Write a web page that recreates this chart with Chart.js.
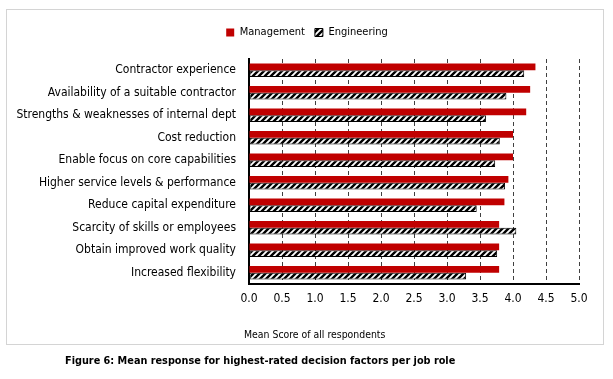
<!DOCTYPE html>
<html>
<head>
<meta charset="utf-8">
<script src="https://cdn.jsdelivr.net/npm/chart.js@4.4.0/dist/chart.umd.min.js"></script>
<style>
  body { margin: 0; background: #fff; width: 613px; height: 379px; position: relative; overflow: hidden; }
  #frame { position: absolute; left: 6px; top: 9px; width: 596px; height: 334px; border: 1px solid #d4d4d4; }
  #chartBox { position: absolute; left: 0; top: 0; width: 596px; height: 334px; }
  #axisTitle { position: absolute; left: 244px; top: 328px; white-space: nowrap;
    font: 10.4px "DejaVu Sans Condensed", "DejaVu Sans", sans-serif; color: #000; }
  #caption { position: absolute; left: 65px; top: 354px; white-space: nowrap;
    font: bold 10.8px "DejaVu Sans Condensed", "DejaVu Sans", sans-serif; color: #000; }
</style>
</head>
<body>
<div id="frame"><div id="chartBox"><canvas id="chartFactors"></canvas></div></div>
<div id="axisTitle">Mean Score of all respondents</div>
<div id="caption">Figure 6: Mean response for highest-rated decision factors per job role</div>
<script>
const factors = [
  'Contractor experience',
  'Availability of a suitable contractor',
  'Strengths & weaknesses of internal dept',
  'Cost reduction',
  'Enable focus on core capabilities',
  'Higher service levels & performance',
  'Reduce capital expenditure',
  'Scarcity of skills or employees',
  'Obtain improved work quality',
  'Increased flexibility'
];
const management = [4.34, 4.26, 4.20, 4.00, 4.00, 3.93, 3.87, 3.79, 3.79, 3.79];
const engineering = [4.17, 3.90, 3.59, 3.80, 3.73, 3.88, 3.45, 4.05, 3.76, 3.29];
const xTicks = [0, 0.5, 1, 1.5, 2, 2.5, 3, 3.5, 4, 4.5, 5];

const fontName = '"DejaVu Sans Condensed", "DejaVu Sans", sans-serif';

function makeHatch() {
  const c = document.createElement('canvas');
  c.width = 6;
  c.height = 6;
  const ctx = c.getContext('2d');
  ctx.fillStyle = '#fff';
  ctx.fillRect(0, 0, 6, 6);
  ctx.strokeStyle = '#000';
  ctx.lineWidth = 2.4;
  ctx.beginPath();
  ctx.moveTo(-1, 7); ctx.lineTo(7, -1);
  ctx.moveTo(-4, 4); ctx.lineTo(4, -4);
  ctx.moveTo(2, 10); ctx.lineTo(10, 2);
  ctx.stroke();
  return ctx.createPattern(c, 'repeat');
}

// extra room under the legend, and nudge it right
const legendSpace = {
  id: 'legendSpace',
  afterInit(chart) {
    const fit = chart.legend.fit;
    chart.legend.fit = function() {
      fit.call(this);
      this.height += 11;
    };
  },
  afterLayout(chart) {
    chart.legend.left += 11;
    chart.legend.right += 11;
  }
};

const canvas = document.getElementById('chartFactors');
const chart = new Chart(canvas, {
  type: 'bar',
  data: {
    labels: factors,
    datasets: [
      {
        label: 'Management',
        data: management,
        backgroundColor: '#c00000',
        borderWidth: 0,
        categoryPercentage: 0.6,
        barPercentage: 1.0
      },
      {
        label: 'Engineering',
        data: engineering,
        backgroundColor: makeHatch(),
        borderColor: '#000',
        borderWidth: 1,
        borderSkipped: false,
        categoryPercentage: 0.6,
        barPercentage: 1.0
      }
    ]
  },
  options: {
    indexAxis: 'y',
    responsive: true,
    maintainAspectRatio: false,
    animation: false,
    layout: { padding: { left: 6, right: 24, top: 7, bottom: 0 } },
    plugins: {
      legend: {
        position: 'top',
        labels: {
          color: '#000',
          font: { family: fontName, size: 11 },
          boxWidth: 8,
          boxHeight: 8,
          padding: 10
        }
      },
      tooltip: { enabled: false }
    },
    scales: {
      x: {
        min: 0,
        max: 5,
        afterBuildTicks: function(scale) {
          scale.ticks = xTicks.map(v => ({ value: v }));
        },
        afterFit: function(scale) { scale.height = 60; },
        ticks: {
          color: '#000',
          font: { family: fontName, size: 12 },
          padding: 8,
          callback: v => Number(v).toFixed(1)
        },
        grid: {
          color: '#404040',
          drawTicks: false,
          tickLength: 0
        },
        border: { color: '#000', width: 2, dash: [4, 3] }
      },
      y: {
        afterFit: function(scale) { scale.width = 236; },
        ticks: {
          color: '#000',
          font: { family: fontName, size: 12 },
          padding: 5,
          autoSkip: false
        },
        grid: { display: false },
        border: { color: '#000', width: 2 }
      }
    }
  },
  plugins: [legendSpace]
});
</script>
</body>
</html>
